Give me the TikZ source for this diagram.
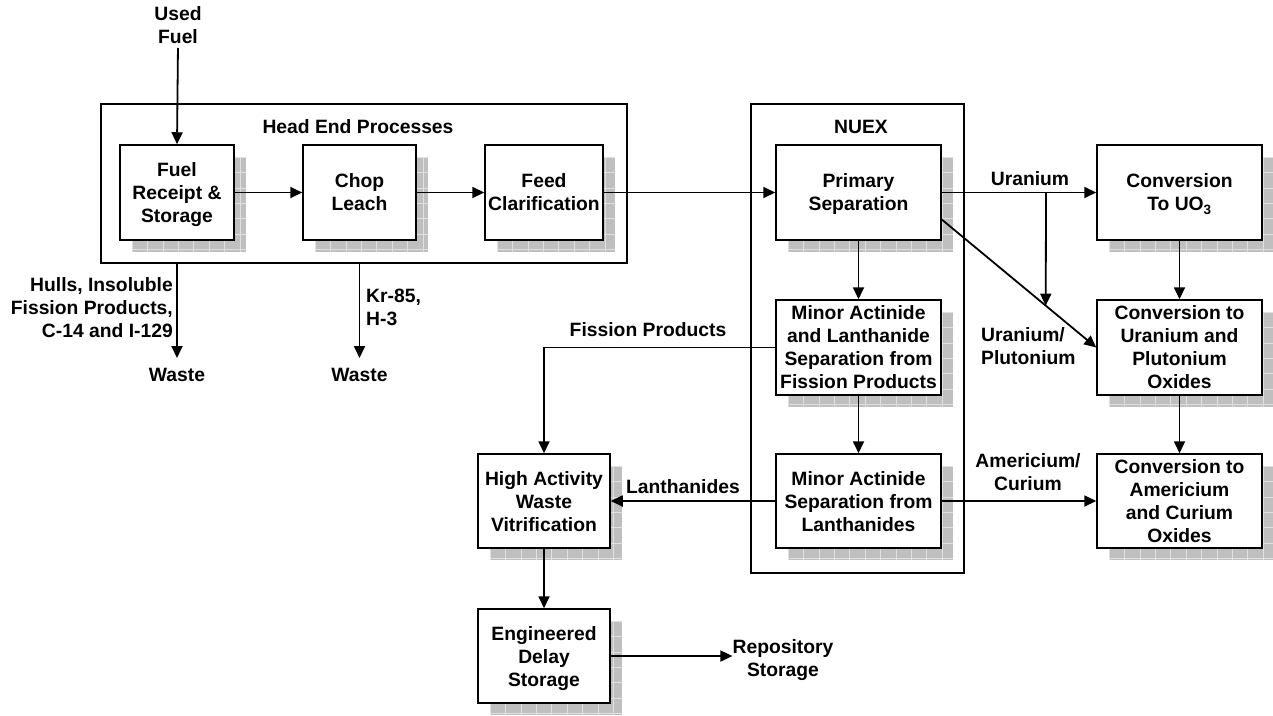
\documentclass[tikz,border=0pt]{standalone}
\usepackage{fontspec}
\setmainfont{Liberation Sans}
\usetikzlibrary{arrows.meta,calc}
\newcommand\lblfont{\bfseries\fontsize{19.3}{23}\selectfont}
\tikzset{
  procbox/.style={draw, line width=1.5pt, fill=white, align=center, inner sep=0pt, text depth=0pt, font=\lblfont},
  groupbox/.style={draw, line width=1.5pt, inner sep=0pt},
  lbl/.style={inner sep=0pt, font=\lblfont},
  arr/.style={line width=1.8pt, -{Triangle[length=12pt,width=11pt]}},
  shfill/.style={fill=black!25},
  shgrid/.style={draw=black!12, line width=0.6pt},
}
% name, cx, cy, w, h, text
\newcommand\shbox[6]{%
  \fill[shfill] ({#2-#4/2+12},{#3+#5/2-12}) rectangle ({#2+#4/2+12},{#3-#5/2-12});
  \begin{scope}
    \clip ({#2-#4/2+12},{#3+#5/2-12}) rectangle ({#2+#4/2+12},{#3-#5/2-12});
    \begin{scope}[shift={({#2-#4/2+12},{#3+#5/2-12})}]
      \draw[shgrid] (0,-#5) grid[step=15.4] (#4,0);
    \end{scope}
  \end{scope}
  \node[procbox, minimum width=#4, minimum height=#5] (#1) at (#2,#3) {#6};
}
\begin{document}
\begin{tikzpicture}[x=1pt,y=1pt]
\useasboundingbox (0,0) rectangle (1273,-715);
\fill[white] (0,0) rectangle (1273,-715);

% group boxes
\node[groupbox, minimum width=526, minimum height=159] (headend) at (364,-183.5) {};
\node[groupbox, minimum width=213, minimum height=469] (nuex) at (857.5,-338.5) {};
\node[lbl, anchor=base] (headendlbl) at (358,-133) {Head End Processes};
\node[lbl, anchor=base] (nuexlbl) at (861,-133) {NUEX};

% process boxes
\shbox{fuel}{177}{-192.5}{114}{95}{Fuel\\Receipt \&\\Storage}
\shbox{chop}{359.5}{-192.5}{113}{95}{Chop\\Leach}
\shbox{feed}{544}{-192.5}{118}{95}{Feed\\Clarification}
\shbox{prim}{858.5}{-192.5}{165}{95}{Primary\\Separation}
\shbox{mina}{858.5}{-347.5}{165}{95}{Minor Actinide\\and Lanthanide\\Separation from\\Fission Products}
\shbox{minb}{858.5}{-501}{165}{94}{Minor Actinide\\Separation from\\Lanthanides}
\shbox{cuo}{1179.5}{-192.5}{165}{95}{Conversion\\To UO\textsubscript{3}}
\shbox{cupu}{1179.5}{-347.5}{165}{95}{Conversion to\\Uranium and\\Plutonium\\Oxides}
\shbox{camcm}{1179.5}{-501}{165}{94}{Conversion to\\Americium\\and Curium\\Oxides}
\shbox{haw}{544}{-501}{132}{94}{High Activity\\Waste\\Vitrification}
\shbox{eds}{544}{-656}{132}{94}{Engineered\\Delay\\Storage}

% free labels
\node[lbl, align=center, anchor=south] (usedfuel) at (178,-44) {Used\\Fuel};
\node[lbl, anchor=north] (waste1) at (177,-368) {Waste};
\node[lbl, anchor=north] (waste2) at (359.5,-368) {Waste};
\node[lbl, align=right, anchor=north east] (hulls) at (173,-277) {Hulls, Insoluble\\Fission Products,\\C-14 and I-129};
\node[lbl, align=left, anchor=north west] (kr) at (366,-289) {Kr-85,\\H-3};
\node[lbl, anchor=base] (fplbl) at (648,-336) {Fission Products};
\node[lbl, anchor=base] (ulbl) at (1030,-185) {Uranium};
\node[lbl, align=left, anchor=north west] (upulbl) at (981,-327) {Uranium/\\Plutonium};
\node[lbl, align=center, anchor=north] (amlbl) at (1028,-453) {Americium/\\Curium};
\node[lbl, anchor=base] (lanlbl) at (683,-493) {Lanthanides};
\node[lbl, align=center, anchor=north] (repo) at (783,-639) {Repository\\Storage};

% connectors
\draw[arr, shorten <=4pt] (usedfuel.south) -- (fuel.north);
\draw[arr] (fuel.east) -- (chop.west);
\draw[arr] (chop.east) -- (feed.west);
\draw[arr] (feed.east) -- (prim.west);
\draw[arr, shorten >=10pt] (fuel.south |- headend.south) -- (waste1.north);
\draw[arr, shorten >=10pt] (chop.south |- headend.south) -- (waste2.north);
\draw[arr] (prim.east) -- (cuo.west);
\coordinate (ubr) at (1046,-192.5);
\coordinate (dstart) at ($(prim.east)+(0,-27)$);
\coordinate (umeet) at ($(dstart)!0.673!(cupu.west)$);
\draw[arr] (ubr) -- (umeet);
\draw[arr] (dstart) -- (cupu.west);
\draw[arr] (prim.south) -- (mina.north);
\draw[arr] (mina.south) -- (minb.north);
\draw[arr] (mina.west) -| (haw.north);
\draw[arr] (minb.west) -- (haw.east);
\draw[arr] (minb.east) -- (camcm.west);
\draw[arr] (cuo.south) -- (cupu.north);
\draw[arr] (cupu.south) -- (camcm.north);
\draw[arr] (haw.south) -- (eds.north);
\draw[arr] (eds.east) -- (eds.east -| repo.west);
\end{tikzpicture}
\end{document}
